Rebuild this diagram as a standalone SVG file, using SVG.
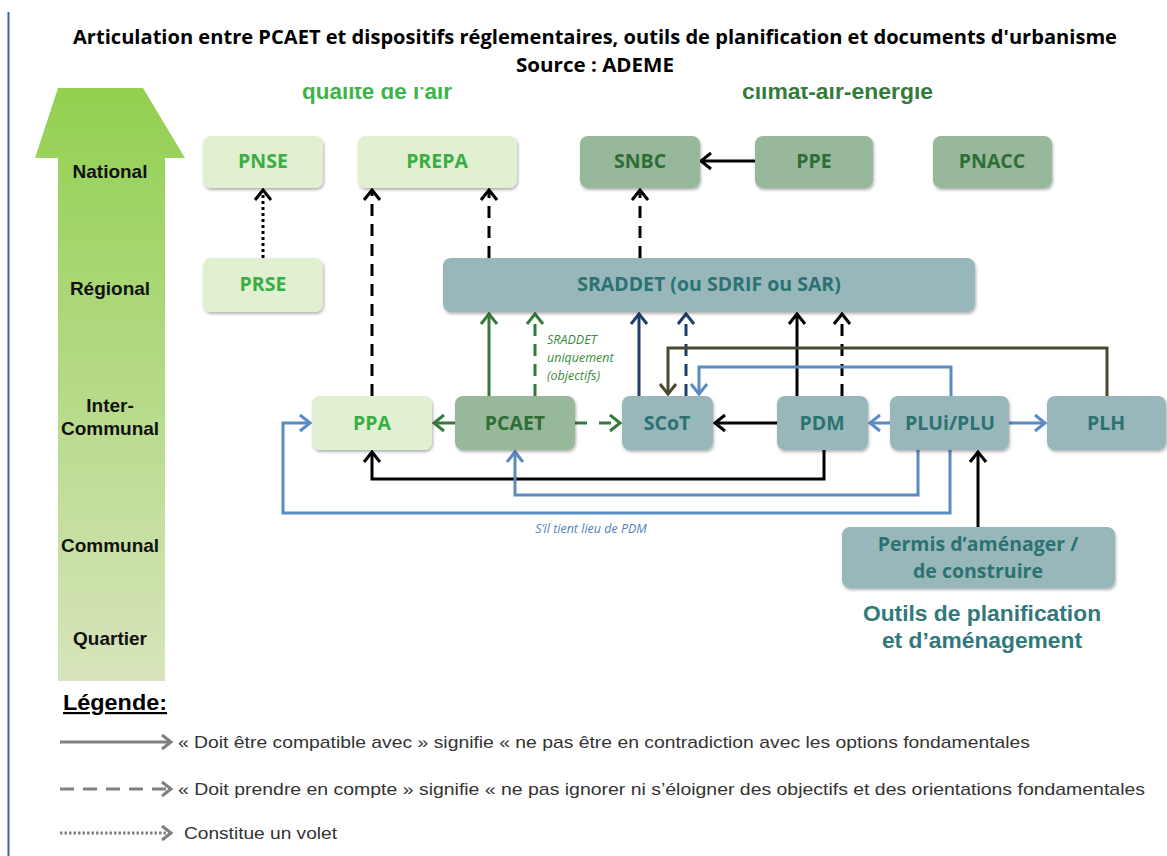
<svg xmlns="http://www.w3.org/2000/svg" width="1167" height="856" viewBox="0 0 1167 856">
<style>
.title{font-family:"Open Sans","Noto Sans",sans-serif;font-weight:bold;font-size:19px;fill:#000}
.lvl{font-family:"Liberation Sans",Arial,sans-serif;font-weight:bold;font-size:19px;fill:#111}
.nt{font-family:"Open Sans","Noto Sans",sans-serif;font-weight:bold;font-size:19.5px;text-anchor:middle}
.lgt{font-family:"Liberation Sans",Arial,sans-serif;font-size:17px;fill:#333}
.it{font-family:"Open Sans","Noto Sans",sans-serif;font-style:italic;font-size:12.5px}
.lgreen rect{fill:#e1f0d0}
.lgreen text{fill:#3aae44}
.sage rect{fill:#98b89b}
.sage text{fill:#2f6d37}
.teal rect{fill:#97b7bb}
.teal text{fill:#2c7272}
.box{filter:url(#sh)}
.c{fill:none;stroke-width:3}
.k{stroke:#000;marker-end:url(#mk)}
.g{stroke:#357a3c;marker-end:url(#mg)}
.n{stroke:#1f3d6b;marker-end:url(#mn)}
.o{stroke:#4b4a2e;marker-end:url(#mo)}
.b{stroke:#5a8ac6;marker-end:url(#mb)}
.gr{stroke:#808080;marker-end:url(#mgr)}
.dash{stroke-dasharray:12 8}
.dot{stroke-dasharray:3 3}
</style>
<defs>
<linearGradient id="arrowGrad" x1="0" y1="0" x2="0" y2="1">
<stop offset="0" stop-color="#92d050"/>
<stop offset="1" stop-color="#d8e4bc"/>
</linearGradient>
<filter id="sh" x="-10%" y="-10%" width="130%" height="140%">
<feDropShadow dx="1" dy="2" stdDeviation="1.5" flood-color="#000" flood-opacity="0.3"/>
</filter>
<clipPath id="topclip"><rect x="0" y="87" width="1167" height="800"/></clipPath>
<marker id="mk" markerUnits="userSpaceOnUse" markerWidth="22" markerHeight="22" viewBox="-13 -11 15 22" refX="0" refY="0" orient="auto"><path d="M-10,-8 L0,0 L-10,8" fill="none" stroke="#000" stroke-width="3"/></marker>
<marker id="mg" markerUnits="userSpaceOnUse" markerWidth="22" markerHeight="22" viewBox="-13 -11 15 22" refX="0" refY="0" orient="auto"><path d="M-10,-8 L0,0 L-10,8" fill="none" stroke="#357a3c" stroke-width="3"/></marker>
<marker id="mn" markerUnits="userSpaceOnUse" markerWidth="22" markerHeight="22" viewBox="-13 -11 15 22" refX="0" refY="0" orient="auto"><path d="M-10,-8 L0,0 L-10,8" fill="none" stroke="#1f3d6b" stroke-width="3"/></marker>
<marker id="mo" markerUnits="userSpaceOnUse" markerWidth="22" markerHeight="22" viewBox="-13 -11 15 22" refX="0" refY="0" orient="auto"><path d="M-10,-8 L0,0 L-10,8" fill="none" stroke="#4b4a2e" stroke-width="3"/></marker>
<marker id="mb" markerUnits="userSpaceOnUse" markerWidth="22" markerHeight="22" viewBox="-13 -11 15 22" refX="0" refY="0" orient="auto"><path d="M-10,-8 L0,0 L-10,8" fill="none" stroke="#5a8ac6" stroke-width="3"/></marker>
<marker id="mgr" markerUnits="userSpaceOnUse" markerWidth="22" markerHeight="22" viewBox="-13 -11 15 22" refX="0" refY="0" orient="auto"><path d="M-9,-7 L0,0 L-9,7" fill="none" stroke="#808080" stroke-width="3"/></marker>
</defs>

<rect width="1167" height="856" fill="#fff"/>
<line x1="8.5" y1="12" x2="8.5" y2="856" stroke="#3e64a0" stroke-width="2"/>

<g id="title">
<text class="title" x="595" y="44" text-anchor="middle" textLength="1044" lengthAdjust="spacingAndGlyphs">Articulation entre PCAET et dispositifs réglementaires, outils de planification et documents d'urbanisme</text>
<text class="title" x="595" y="72" text-anchor="middle" textLength="158" lengthAdjust="spacingAndGlyphs">Source : ADEME</text>
</g>

<g id="headers" clip-path="url(#topclip)">
<text x="302" y="99" font-family="Liberation Sans,Arial,sans-serif" font-size="22" font-weight="bold" fill="#3cb44a" textLength="150" lengthAdjust="spacingAndGlyphs">qualité de l'air</text>
<text x="742" y="99" font-family="Liberation Sans,Arial,sans-serif" font-size="22" font-weight="bold" fill="#357a3c" textLength="191" lengthAdjust="spacingAndGlyphs">climat-air-énergie</text>
</g>

<g id="levels">
<polygon points="58,88 143,88 185,158 165,158 165,681 58,681 58,158 35,158" fill="url(#arrowGrad)" clip-path="url(#topclip)"/>
<text class="lvl" x="110" y="178" text-anchor="middle">National</text>
<text class="lvl" x="110" y="295" text-anchor="middle">Régional</text>
<text class="lvl" x="110" y="412" text-anchor="middle">Inter-</text>
<text class="lvl" x="110" y="435" text-anchor="middle">Communal</text>
<text class="lvl" x="110" y="552" text-anchor="middle">Communal</text>
<text class="lvl" x="110" y="645" text-anchor="middle">Quartier</text>
</g>

<g id="connectors">
<path class="c k" d="M755,161 L701,161"/>
<path class="c k dot" d="M263,258 L263,190"/>
<path class="c k dash" d="M372,396 L372,190"/>
<path class="c k dash" d="M489,258 L489,190"/>
<path class="c k dash" d="M640,258 L640,190"/>
<path class="c g" d="M489,396 L489,314"/>
<path class="c g dash" d="M535,396 L535,314"/>
<path class="c g" d="M455,423 L434,423"/>
<path class="c g" stroke-dasharray="12 12" d="M575,423 L620,423"/>
<path class="c n" d="M639,396 L639,314"/>
<path class="c n dash" d="M686,396 L686,314"/>
<path class="c k" d="M797,396 L797,314"/>
<path class="c k dash" d="M842,396 L842,314"/>
<path class="c o" d="M1107,396 L1107,348 L668,348 L668,394"/>
<path class="c b" d="M951,396 L951,367 L699,367 L699,394"/>
<path class="c k" d="M777,423 L715,423"/>
<path class="c b" d="M890,423 L870,423"/>
<path class="c b" d="M1009,423 L1045,423"/>
<path class="c k" d="M824,450 L824,479 L372,479 L372,452"/>
<path class="c b" d="M918,450 L918,495 L515,495 L515,452"/>
<path class="c b" d="M950,450 L950,513 L283,513 L283,423 L310,423"/>
<path class="c k" d="M978,527 L978,452"/>
<text class="it" x="547" y="344" fill="#3d8a3d">SRADDET</text>
<text class="it" x="547" y="362" fill="#3d8a3d">uniquement</text>
<text class="it" x="547" y="380" fill="#3d8a3d">(objectifs)</text>
<text class="it" x="591" y="533" fill="#4f7fc0" text-anchor="middle">S’il tient lieu de PDM</text>
</g>

<g id="PNSE" class="lgreen"><rect class="box" x="203" y="136" width="120" height="52" rx="8"/><text class="nt" x="263" y="168">PNSE</text></g>
<g id="PREPA" class="lgreen"><rect class="box" x="358" y="136" width="159" height="52" rx="8"/><text class="nt" x="437" y="168">PREPA</text></g>
<g id="PRSE" class="lgreen"><rect class="box" x="203" y="258" width="120" height="54" rx="8"/><text class="nt" x="263" y="291">PRSE</text></g>
<g id="SNBC" class="sage"><rect class="box" x="580" y="136" width="120" height="52" rx="8"/><text class="nt" x="640" y="168">SNBC</text></g>
<g id="PPE" class="sage"><rect class="box" x="755" y="136" width="118" height="52" rx="8"/><text class="nt" x="814" y="168">PPE</text></g>
<g id="PNACC" class="sage"><rect class="box" x="933" y="136" width="119" height="52" rx="8"/><text class="nt" x="992" y="168">PNACC</text></g>
<g id="SRADDET" class="teal"><rect class="box" x="443" y="258" width="532" height="54" rx="8"/><text class="nt" x="709" y="291">SRADDET (ou SDRIF ou SAR)</text></g>
<g id="PPA" class="lgreen"><rect class="box" x="312" y="396" width="120" height="54" rx="8"/><text class="nt" x="372" y="430">PPA</text></g>
<g id="PCAET" class="sage"><rect class="box" x="455" y="396" width="120" height="54" rx="8"/><text class="nt" x="515" y="430">PCAET</text></g>
<g id="SCoT" class="teal"><rect class="box" x="622" y="396" width="91" height="54" rx="8"/><text class="nt" x="667" y="430">SCoT</text></g>
<g id="PDM" class="teal"><rect class="box" x="777" y="396" width="91" height="54" rx="8"/><text class="nt" x="822" y="430">PDM</text></g>
<g id="PLUi" class="teal"><rect class="box" x="890" y="396" width="119" height="54" rx="8"/><text class="nt" x="950" y="430">PLUi/PLU</text></g>
<g id="PLH" class="teal"><rect class="box" x="1047" y="396" width="119" height="54" rx="8"/><text class="nt" x="1106" y="430">PLH</text></g>
<g id="Permis" class="teal"><rect class="box" x="842" y="527" width="273" height="61" rx="8"/><text class="nt" x="978" y="551">Permis d’aménager /</text><text class="nt" x="978" y="578">de construire</text></g>

<g id="outils">
<text x="982" y="621" text-anchor="middle" font-family="Liberation Sans,Arial,sans-serif" font-weight="bold" font-size="22.8" fill="#31797a">Outils de planification</text>
<text x="982" y="648" text-anchor="middle" font-family="Liberation Sans,Arial,sans-serif" font-weight="bold" font-size="22.8" fill="#31797a">et d’aménagement</text>
</g>

<g id="legend">
<text x="63" y="710" font-family="Liberation Sans,Arial,sans-serif" font-weight="bold" font-size="22" fill="#000" text-decoration="underline" textLength="104" lengthAdjust="spacingAndGlyphs">Légende:</text>
<path class="c gr" d="M60,742 L171,742"/>
<path class="c gr" stroke-dasharray="14 9" d="M60,789 L171,789"/>
<path class="c gr" stroke-dasharray="2.5 2" stroke-width="2.5" d="M60,833 L171,833"/>
<text class="lgt" x="178" y="748" textLength="852" lengthAdjust="spacingAndGlyphs">« Doit être compatible avec » signifie « ne pas être en contradiction avec les options fondamentales</text>
<text class="lgt" x="178" y="795" textLength="967" lengthAdjust="spacingAndGlyphs">« Doit prendre en compte » signifie « ne pas ignorer ni s’éloigner des objectifs et des orientations  fondamentales</text>
<text class="lgt" x="184" y="839" textLength="153" lengthAdjust="spacingAndGlyphs">Constitue un volet</text>
</g>
</svg>
